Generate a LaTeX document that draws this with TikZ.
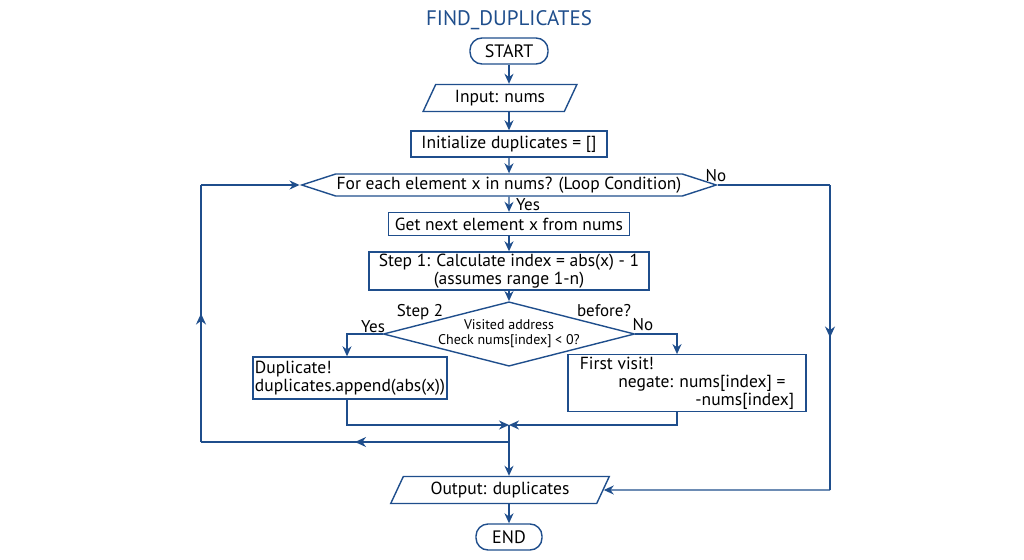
\documentclass[tikz,border=0pt]{standalone}
\usepackage{fontspec}
\setmainfont{PT Sans}
\usepackage{xcolor}
\usetikzlibrary{arrows.meta,positioning,shapes.geometric,shapes.symbols,decorations.markings}
\definecolor{flowblue}{HTML}{1F4E8C}

\begin{document}
\begin{tikzpicture}[
  x=1pt,y=-1pt,
  box/.style={draw=flowblue, line width=1.4pt, font=\fontsize{17.5}{18}\selectfont,
    align=center, inner sep=4pt},
  term/.style={box, rounded corners=12pt, minimum width=78pt, minimum height=26pt,
    font=\fontsize{18}{19}\selectfont},
  io/.style={box, trapezium, trapezium left angle=65, trapezium right angle=115,
    minimum height=27pt, inner sep=2pt},
  cond/.style={box, signal, signal to=west and east, signal pointer angle=36,
    minimum height=22pt, inner sep=1pt},
  check/.style={box, diamond, aspect=3.9, inner sep=0pt, minimum width=216pt,
    minimum height=55pt, font=\fontsize{14}{15}\selectfont},
  lbl/.style={font=\fontsize{17}{18}\selectfont},
  line/.style={draw=flowblue, line width=1.4pt},
  flow/.style={line, -{Stealth[length=10pt,width=9pt]}},
  mid/.style={line, postaction={decorate}, decoration={markings,
    mark=at position 0.5 with {\arrow{Stealth[length=11pt,width=10pt]}}}}
]
\useasboundingbox (0,0) rectangle (1024,559);

\node[font=\fontsize{21}{22}\selectfont, text=flowblue] (title) at (509,20) {FIND\_DUPLICATES};
\node[term] (start) at (509,51) {START};
\node[io, minimum width=110pt] (input) at (500,98) {Input: nums};
\node[box, minimum width=196pt, minimum height=26pt, inner sep=2pt] (init) at (509,144) {Initialize duplicates = []};
\node[cond, minimum width=382pt] (loop) at (509,185) {For each element x in nums? (Loop Condition)};
\node[box, minimum width=241pt, minimum height=23pt, inner sep=1pt] (next) at (509,224) {Get next element x from nums};
\node[box, minimum width=280pt, minimum height=38pt, inner sep=1pt] (calc) at (509,271)
  {Step 1: Calculate index = abs(x) - 1\\(assumes range 1-n)};
\node[check] (visit) at (509,334) {Visited address\\Check nums[index] < 0?};
\node[box, minimum width=193pt, minimum height=42pt, align=left, inner sep=2pt] (dup) at (350,378)
  {Duplicate!\\duplicates.append(abs(x))};
\node[box, minimum width=238pt, minimum height=56pt, align=left, inner sep=2pt] (first) at (687,383)
  {First visit!\\\hspace*{2.2em}negate: nums[index] =\\\hspace*{6.6em}-nums[index]};
\node[io, minimum width=170pt] (output) at (500,490) {Output: duplicates};
\node[term, minimum width=66pt] (end) at (509,537) {END};

\node[lbl] (yes1) at (528,205) {Yes};
\node[lbl] (no1) at (716,176) {No};
\node[lbl] (step2) at (420,312) {Step 2};
\node[lbl] (before) at (604,311) {before?};
\node[lbl] (yes2) at (373,327) {Yes};
\node[lbl] (no2) at (643,325) {No};

\coordinate (merge) at (509,425);
\coordinate (join) at (509,442);
\coordinate (backbot) at (201,442);
\coordinate (backtop) at (201,185);
\coordinate (exittop) at (830,185);
\coordinate (exitbot) at (830,490);

\draw[flow] (start) -- (start|-input.north);
\draw[flow] (start|-input.south) -- (init);
\draw[flow] (init) -- (loop);
\draw[flow] (loop) -- (next);
\draw[flow] (next) -- (calc);
\draw[flow] (calc) -- (visit);
\draw[flow] (visit.west) -| ([xshift=-3pt]dup.north);
\draw[flow] (visit.east) -| ([xshift=-10pt]first.north);
\draw[flow] ([xshift=-3pt]dup.south) |- (merge);
\draw[flow] ([xshift=-10pt]first.south) |- (merge);
\draw[line] (merge) -- (join);
\draw[flow] (join) -- (join|-output.north);
\draw[mid] (join) -- (backbot);
\draw[mid] (backbot) -- (backtop);
\draw[flow] (backtop) -- (loop.west);
\draw[line] (loop.east) -- (exittop);
\draw[mid] (exittop) -- (exitbot);
\draw[flow] (exitbot) -- (output.east);
\draw[flow] (join|-output.south) -- (end);
\end{tikzpicture}
\end{document}
